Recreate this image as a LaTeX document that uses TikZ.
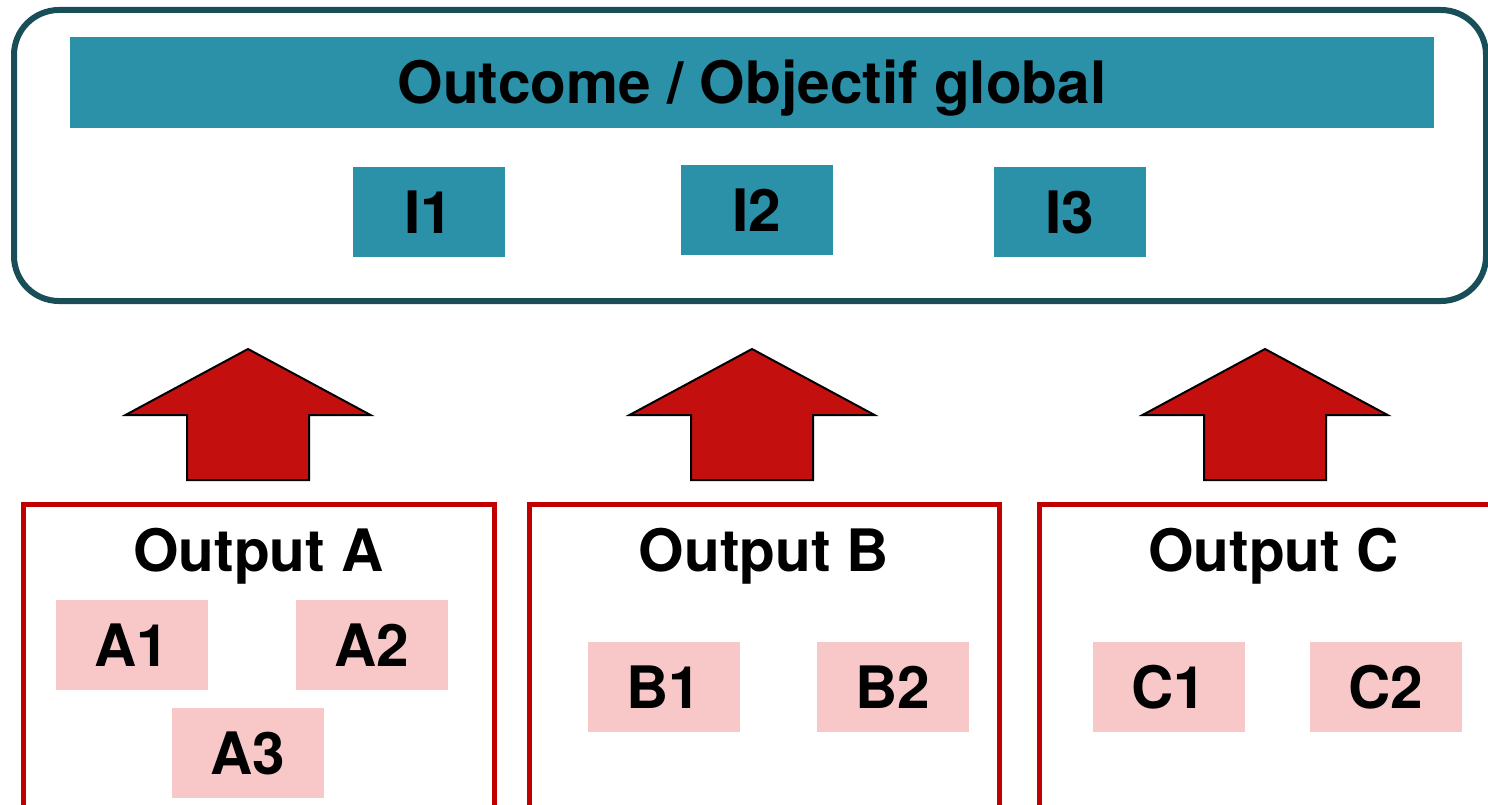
\documentclass[tikz,border=0pt]{standalone}
\usepackage{fontspec}
\setmainfont{TeX Gyre Heros}
\definecolor{tealfill}{HTML}{2A91A8}
\definecolor{tealborder}{HTML}{174E58}
\definecolor{boxred}{HTML}{C00000}
\definecolor{arrowred}{HTML}{C40F0F}
\definecolor{pinkfill}{HTML}{F8C7C7}
\begin{document}
\begin{tikzpicture}[x=1pt,y=-1pt,
  big/.style={font=\fontsize{58.5}{60}\selectfont\bfseries},
  tealbox/.style={fill=tealfill,inner sep=0pt,minimum width=152pt,minimum height=90pt,big,text depth=0pt},
  pinkbox/.style={fill=pinkfill,inner sep=0pt,minimum width=152pt,minimum height=90pt,big,text depth=0pt},
  outbox/.style={draw=boxred,line width=5pt,inner sep=0pt,minimum height=336pt},
  uparrow/.style={fill=arrowred,draw=black,line width=2pt,line join=miter}]
\useasboundingbox (0,0) rectangle (1488,805);
\clip (0,0) rectangle (1488,805);
% outcome frame
\node[draw=tealborder,line width=6pt,rounded corners=45pt,inner sep=0pt,
      minimum width=1472pt,minimum height=291pt] (outcome) at (750,155.5) {};
\node[fill=tealfill,inner sep=0pt,minimum width=1364pt,minimum height=91pt,big,
      text height=42pt,text depth=0pt] (banner) at (752,82.5) {Outcome / Objectif global};
\node[tealbox] (i1) at (429,212) {I1};
\node[tealbox] (i2) at (757,210) {I2};
\node[tealbox] (i3) at (1070,212) {I3};
% arrows
\coordinate (tip1) at (248,349);
\coordinate (tip2) at (752,349);
\coordinate (tip3) at (1265,349);
\foreach \t in {tip1,tip2,tip3}{
  \draw[uparrow] (\t) -- ++(122.5,66) -- ++(-61.5,0) -- ++(0,65) -- ++(-122,0)
     -- ++(0,-65) -- ++(-61.5,0) -- cycle;
}
% output boxes
\node[outbox,minimum width=471pt] (oa) at (258.5,672) {};
\node[outbox,minimum width=470pt] (ob) at (764,672) {};
\node[outbox,minimum width=491pt] (oc) at (1284.5,672) {};
\node[big,anchor=base] (ta) at (258.5,571) {Output A};
\node[big,anchor=base] (tb) at (764,571) {Output B};
\node[big,anchor=base] (tc) at (1273.5,571) {Output C};
\node[pinkbox] (a1) at (132,645) {A1};
\node[pinkbox] (a2) at (371.5,645) {A2};
\node[pinkbox] (a3) at (248,753) {A3};
\node[pinkbox] (b1) at (664,687) {B1};
\node[pinkbox] (b2) at (893,687) {B2};
\node[pinkbox] (c1) at (1168.5,687) {C1};
\node[pinkbox] (c2) at (1385.5,687) {C2};
\end{tikzpicture}
\end{document}
